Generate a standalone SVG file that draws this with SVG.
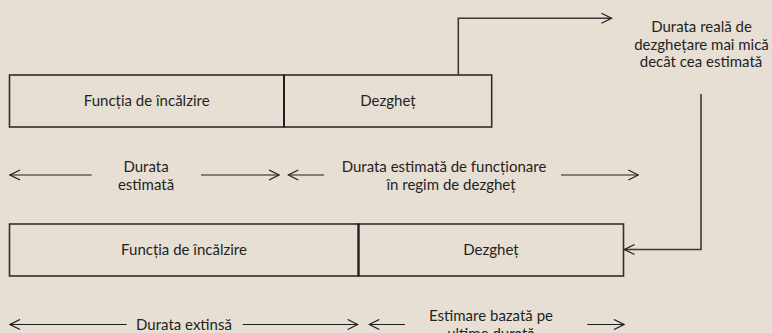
<svg xmlns="http://www.w3.org/2000/svg" width="772" height="333" viewBox="0 0 772 333">
<defs>
<marker id="ah" viewBox="0 0 12 12" refX="11" refY="6" markerWidth="12" markerHeight="12" markerUnits="userSpaceOnUse" orient="auto-start-reverse">
<path d="M1,1 L11,6 L1,11" fill="none" stroke="#1e1e1e" stroke-width="1.2"/>
</marker>
<style>
.bg{fill:#E7DFD4}
.box{fill:none;stroke:#2f2f2f;stroke-width:1.6}
.div{stroke:#1e1e1e;stroke-width:1.8}
.t{font-family:Lato,"Liberation Sans",sans-serif;font-size:15px;fill:#1f1f1f;text-anchor:middle}
.conn{fill:none;stroke:#3a3a3a;stroke-width:1.6}
.dim{fill:none;stroke:#1e1e1e;stroke-width:1.2}
</style>
</defs>
<rect class="bg" x="0" y="0" width="772" height="333"/>

<g id="top-heating">
<rect class="box" x="9.5" y="75" width="274.5" height="52"/>
<text class="t" x="146.7" y="106">Funcția de încălzire</text>
</g>
<g id="top-defrost">
<rect class="box" x="284" y="75" width="207.7" height="52"/>
<line class="div" x1="284" y1="75" x2="284" y2="127"/>
<text class="t" x="388" y="106">Dezgheț</text>
</g>
<g id="note">
<text class="t" x="701.5" y="32">Durata reală de</text>
<text class="t" x="701.5" y="49.5">dezghețare mai mică</text>
<text class="t" x="701" y="67">decât cea estimată</text>
</g>
<g id="bottom-heating">
<rect class="box" x="9.5" y="224" width="349" height="52"/>
<text class="t" x="184" y="255">Funcția de încălzire</text>
</g>
<g id="bottom-defrost">
<rect class="box" x="358.5" y="224" width="265" height="52"/>
<line class="div" x1="358.5" y1="224" x2="358.5" y2="276"/>
<text class="t" x="491" y="255">Dezgheț</text>
</g>

<g id="labels">
<text class="t" x="146" y="172">Durata</text>
<text class="t" x="146" y="190">estimată</text>
<text class="t" x="444" y="172">Durata estimată de funcționare</text>
<text class="t" x="451" y="190">în regim de dezgheț</text>
<text class="t" x="184" y="330">Durata extinsă</text>
<text class="t" x="491" y="320.5">Estimare bazată pe</text>
<text class="t" x="491" y="338.5">ultime durată</text>
</g>

<g id="connectors">
<polyline class="conn" points="458.3,75 458.3,18.3 611.5,18.3" marker-end="url(#ah)"/>
<polyline class="conn" points="701,94 701,249.5 624.5,249.5" marker-end="url(#ah)"/>
<line class="dim" x1="91.7" y1="175" x2="10" y2="175" marker-end="url(#ah)"/>
<line class="dim" x1="201" y1="175" x2="279" y2="175" marker-end="url(#ah)"/>
<line class="dim" x1="324" y1="175" x2="288.3" y2="175" marker-end="url(#ah)"/>
<line class="dim" x1="561" y1="175" x2="638.3" y2="175" marker-end="url(#ah)"/>
<line class="dim" x1="126.7" y1="324.5" x2="10" y2="324.5" marker-end="url(#ah)"/>
<line class="dim" x1="242.7" y1="324.5" x2="357.7" y2="324.5" marker-end="url(#ah)"/>
<line class="dim" x1="405" y1="324.5" x2="369.3" y2="324.5" marker-end="url(#ah)"/>
<line class="dim" x1="587.3" y1="324.5" x2="624" y2="324.5" marker-end="url(#ah)"/>
</g>
</svg>
